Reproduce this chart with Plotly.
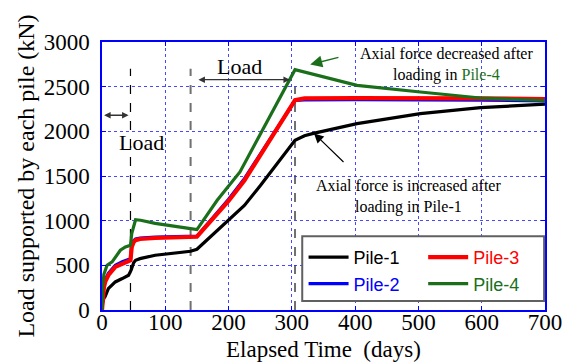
import plotly.graph_objects as go

# ---------------- data ----------------
days_p1 = [0, 1, 3, 5, 10, 21, 32, 42, 46, 50, 53, 60, 84, 140, 150, 200, 225, 250, 305, 320, 334, 403, 503, 598, 700]
pile1 = [0, 80, 130, 150, 240, 314, 352, 389, 445, 530, 557, 575, 613, 658, 680, 1000, 1170, 1390, 1900, 1950, 1977, 2086, 2198, 2265, 2305]

days_p2 = [0, 1, 3, 5, 10, 21, 32, 45, 47, 50, 53, 60, 84, 140, 150, 200, 225, 305, 320, 400, 500, 600, 700]
pile2 = [0, 170, 270, 335, 410, 500, 540, 575, 720, 775, 795, 805, 815, 818, 826, 1240, 1470, 2345, 2352, 2355, 2355, 2350, 2340]

days_p3 = [0, 1, 3, 5, 10, 21, 32, 45, 47, 50, 53, 60, 84, 140, 150, 200, 225, 305, 320, 400, 500, 600, 700]
pile3 = [0, 150, 250, 314, 389, 482, 520, 557, 706, 760, 781, 795, 806, 811, 820, 1220, 1450, 2350, 2368, 2372, 2375, 2370, 2362]

days_p4 = [0, 1, 3, 8, 16, 21, 29, 37, 45, 47, 53, 61, 84, 140, 150, 182, 218, 305, 340, 403, 503, 598, 700]
pile4 = [0, 250, 400, 501, 538, 594, 669, 706, 725, 856, 1010, 1005, 970, 911, 900, 1228, 1545, 2690, 2626, 2515, 2440, 2373, 2345]

x_ticks = [0, 100, 200, 300, 400, 500, 600, 700]
y_ticks = [0, 500, 1000, 1500, 2000, 2500, 3000]

load_days = [45, 140, 305]          # loading stage boundaries
load_tops = [2700, 2700, 2500]

GREEN = "#1b6f1b"
SERIF = "Liberation Serif, Times New Roman, serif"
SANS = "Liberation Sans, Arial, sans-serif"

fig = go.Figure()

series = [
    ("Pile-1", days_p1, pile1, "#000000", 3.2, "legend", "#000000"),
    ("Pile-2", days_p2, pile2, "#0000ff", 3.2, "legend", "#0000ff"),
    ("Pile-3", days_p3, pile3, "#ff0000", 4.2, "legend2", "#ff0000"),
    ("Pile-4", days_p4, pile4, GREEN, 3.2, "legend2", GREEN),
]
for name, xs, ys, col, w, leg, tcol in series:
    fig.add_trace(go.Scatter(
        x=xs, y=ys, mode="lines", line=dict(color=col, width=w),
        name=f"<span style='color:{tcol}'>{name}</span>", legend=leg,
    ))

# loading-stage dashed lines
dash_styles = [("#000000", 1.2), ("#707070", 2), ("#707070", 2)]
for d, top, (c, w) in zip(load_days, load_tops, dash_styles):
    fig.add_shape(type="line", xref="x", yref="y", x0=d, x1=d, y0=0, y1=top,
                  line=dict(color=c, width=w, dash="dash"), layer="below")

# legend box
fig.add_shape(type="rect", xref="paper", yref="paper", x0=0.452, x1=0.998, y0=0.034, y1=0.275,
              line=dict(color="#606060", width=2), fillcolor="white", layer="above")

# "Load" double arrows
fig.add_annotation(x=42, y=2180, ax=1, ay=2180, xref="x", yref="y", axref="x", ayref="y",
                   text="", showarrow=True, arrowside="end+start", arrowhead=2, arrowsize=1,
                   arrowwidth=1.3, arrowcolor="#333333")
fig.add_annotation(x=62, y=1880, xref="x", yref="y", text="Load", showarrow=False,
                   font=dict(family=SERIF, size=22, color="black"))
fig.add_annotation(x=297, y=2578, ax=150, ay=2578, xref="x", yref="y", axref="x", ayref="y",
                   text="", showarrow=True, arrowside="end+start", arrowhead=2, arrowsize=1,
                   arrowwidth=1.3, arrowcolor="#333333")
fig.add_annotation(x=218, y=2727, xref="x", yref="y", text="Load", showarrow=False,
                   font=dict(family=SERIF, size=22, color="black"))

# callouts
fig.add_annotation(x=329, y=2749, ax=376, ay=2832, xref="x", yref="y", axref="x", ayref="y",
                   text="", showarrow=True, arrowhead=2, arrowsize=1.6, arrowwidth=1.5,
                   arrowcolor=GREEN)
fig.add_annotation(x=545, y=2749, xref="x", yref="y", showarrow=False,
                   text=f"Axial force decreased after<br>loading in <span style='color:{GREEN}'>Pile-4</span>",
                   font=dict(family=SERIF, size=16, color="black"))
fig.add_annotation(x=335, y=1977, ax=384, ay=1641, xref="x", yref="y", axref="x", ayref="y",
                   text="", showarrow=True, arrowhead=2, arrowsize=1.6, arrowwidth=1.2,
                   arrowcolor="#000000")
fig.add_annotation(x=485, y=1273, xref="x", yref="y", showarrow=False,
                   text="Axial force is increased after<br>loading in Pile-1",
                   font=dict(family=SERIF, size=16, color="black"))

# x-axis title (placed below the tick labels)
fig.add_annotation(x=0.5, y=-0.149, xref="paper", yref="paper", xanchor="center", yanchor="middle",
                   text="Elapsed Time&nbsp; (days)", showarrow=False,
                   font=dict(family=SERIF, size=23, color="black"))

axis_common = dict(
    showline=True, linecolor="#0000ff", linewidth=1.5, mirror="ticks",
    ticks="inside", ticklen=4, tickcolor="#0000ff", automargin=False,
    showgrid=True, gridcolor="rgba(40,40,255,0.85)", griddash="dot", gridwidth=1,
    zeroline=False, tickfont=dict(family=SERIF, size=23, color="black"),
)

fig.update_layout(
    width=567, height=363,
    margin=dict(l=102, r=22, t=42, b=53),
    paper_bgcolor="white", plot_bgcolor="white",
    xaxis=dict(range=[0, 700], tickvals=x_ticks, ticktext=[str(v) for v in x_ticks],
               ticklabelstandoff=-9,
               **axis_common),
    yaxis=dict(range=[0, 3000], tickvals=y_ticks, ticktext=[str(v) for v in y_ticks],
               title=dict(text="Load supported by each pile (kN)", font=dict(family=SERIF, size=24, color="black"),
                          standoff=2),
               ticklabelstandoff=6,
               **axis_common),
    legend=dict(x=0.455, y=0.265, xanchor="left", yanchor="top", bgcolor="rgba(0,0,0,0)",
                borderwidth=0, font=dict(family=SANS, size=18, color="black"),
                tracegroupgap=0, itemwidth=40),
    legend2=dict(x=0.725, y=0.265, xanchor="left", yanchor="top", bgcolor="rgba(0,0,0,0)",
                 borderwidth=0, font=dict(family=SANS, size=18, color="black"),
                 tracegroupgap=0, itemwidth=40),
    showlegend=True,
)

fig.write_html("out.html")
